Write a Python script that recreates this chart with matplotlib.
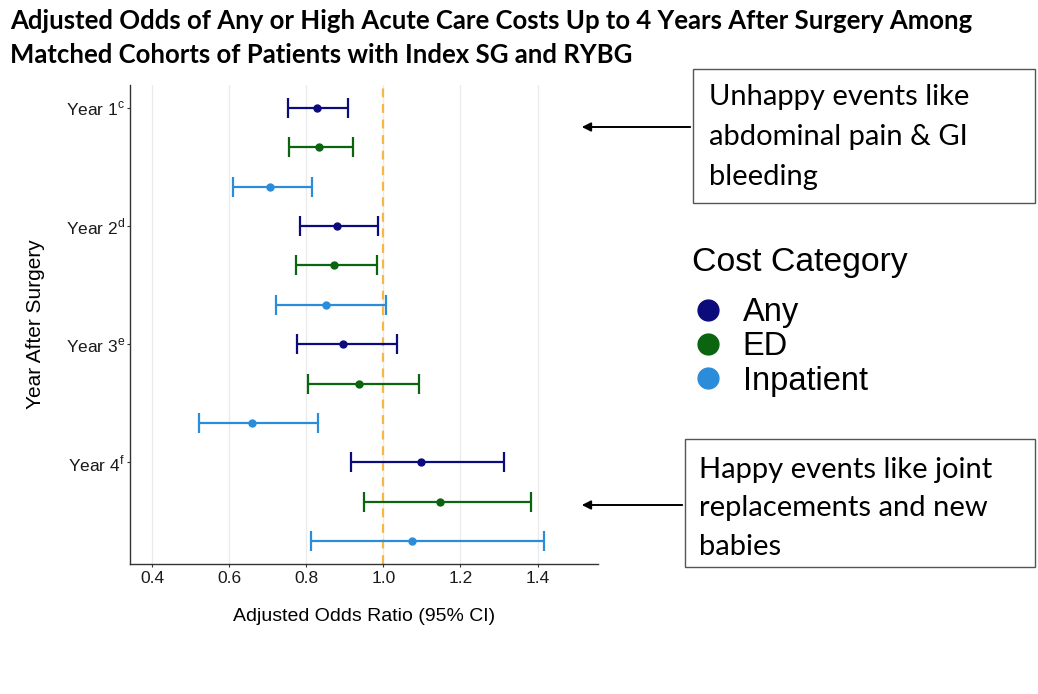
import numpy as np
import matplotlib
matplotlib.use("Agg")
import matplotlib.pyplot as plt
from matplotlib.lines import Line2D
from matplotlib.patches import Rectangle, FancyArrowPatch

# odds ratios, rows are year x cost category
years = ["Year 1", "Year 2", "Year 3", "Year 4"]
year_marks = ["c", "d", "e", "f"]
categories = ["Any", "ED", "Inpatient"]
colors = ["#0b0b7c", "#0a6410", "#2b8cd9"]

odds = {
    "Any":       [0.827, 0.880, 0.896, 1.097],
    "ED":        [0.833, 0.872, 0.936, 1.146],
    "Inpatient": [0.705, 0.852, 0.658, 1.073],
}
ci_low = {
    "Any":       [0.752, 0.784, 0.775, 0.917],
    "ED":        [0.755, 0.772, 0.803, 0.949],
    "Inpatient": [0.610, 0.720, 0.522, 0.812],
}
ci_high = {
    "Any":       [0.909, 0.985, 1.034, 1.314],
    "ED":        [0.920, 0.982, 1.091, 1.382],
    "Inpatient": [0.814, 1.006, 0.831, 1.416],
}
x_ticks = [0.4, 0.6, 0.8, 1.0, 1.2, 1.4]

plt.rcParams["font.family"] = ["Liberation Sans", "DejaVu Sans"]
plt.rcParams["mathtext.fontset"] = "custom"
plt.rcParams["mathtext.rm"] = "Liberation Sans"

W, H = 1038, 694
fig = plt.figure(figsize=(W / 100, H / 100), dpi=100)
ax = fig.add_axes([130 / W, 1 - 564 / H, 468 / W, 479 / H])

n_cat = len(categories)
for j, cat in enumerate(categories):
    rows = np.arange(len(years)) * n_cat + j
    pt = np.array(odds[cat])
    err = [pt - np.array(ci_low[cat]), np.array(ci_high[cat]) - pt]
    ax.errorbar(pt, rows, xerr=err, fmt="o", color=colors[j], ms=5,
                elinewidth=1.6, capsize=7.2, capthick=1.6, zorder=3)

ax.axvline(1.0, color="#f7b742", ls=(0, (4, 3)), lw=1.6, zorder=2)

ax.set_xlim(0.342, 1.557)
ax.set_ylim(len(years) * n_cat - 0.42, -0.58)
ax.set_xticks(x_ticks)
ax.set_xticklabels([f"{t:.1f}" for t in x_ticks])
ax.set_yticks(np.arange(len(years)) * n_cat)
ax.set_yticklabels([f"{y}$^{{\\mathrm{{{m}}}}}$" for y, m in zip(years, year_marks)])
ax.grid(axis="x", color="#ebebeb", lw=1, zorder=0)
ax.set_axisbelow(True)
for s in ["top", "right"]:
    ax.spines[s].set_visible(False)
for s in ["left", "bottom"]:
    ax.spines[s].set_color("#333333")
    ax.spines[s].set_linewidth(1.0)
ax.tick_params(axis="both", labelsize=12.5, colors="#333333", length=2.5,
               width=0.8, labelcolor="#1a1a1a", pad=2.5)
ax.tick_params(axis="y", pad=1)
ax.set_xlabel("Adjusted Odds Ratio (95% CI)", fontsize=14, labelpad=16)
ax.set_ylabel("Year After Surgery", fontsize=15, labelpad=15)

fig.text(10 / W, 1 - 29 / H,
         "Adjusted Odds of Any or High Acute Care Costs Up to 4 Years After Surgery Among",
         fontsize=18.5, fontweight="bold", family="Lato", va="baseline")
fig.text(10 / W, 1 - 63 / H,
         "Matched Cohorts of Patients with Index SG and RYBG",
         fontsize=18.5, fontweight="bold", family="Lato", va="baseline")

# legend, title drawn separately to match the wide gap in the reference
fig.text(692 / W, 1 - 262 / H, "Cost Category", fontsize=24.3, va="center")
handles = [Line2D([], [], ls="none", marker="o", ms=15, color=c) for c in colors]
fig.legend(handles, categories,
           loc="upper left", bbox_to_anchor=(692 / W, 1 - 297 / H),
           frameon=False, fontsize=23.5,
           labelspacing=0.1, handletextpad=0.55,
           handlelength=1.0, borderpad=0, borderaxespad=0)

boxes = [
    (693, 69, 1035, 203, 127,
     ["Unhappy events like", "abdominal pain & GI", "bleeding"], 709, [105, 145, 185]),
    (685, 439, 1035, 567, 505,
     ["Happy events like joint", "replacements and new", "babies"], 699, [478, 516, 555]),
]
for x0, y0, x1, y1, ya, lines, tx, bl in boxes:
    fig.patches.append(Rectangle((x0 / W, 1 - y1 / H), (x1 - x0) / W, (y1 - y0) / H,
                                 transform=fig.transFigure, fill=False,
                                 ec="#555555", lw=1.0))
    for line, b in zip(lines, bl):
        fig.text(tx / W, 1 - b / H, line, fontsize=21, family="Lato", va="baseline")
    fig.add_artist(FancyArrowPatch(
        (x0 / W, 1 - ya / H), (579 / W, 1 - ya / H), transform=fig.transFigure,
        arrowstyle="-|>", mutation_scale=13, lw=1.4, color="black"))

fig.savefig("out.png", dpi=100)
